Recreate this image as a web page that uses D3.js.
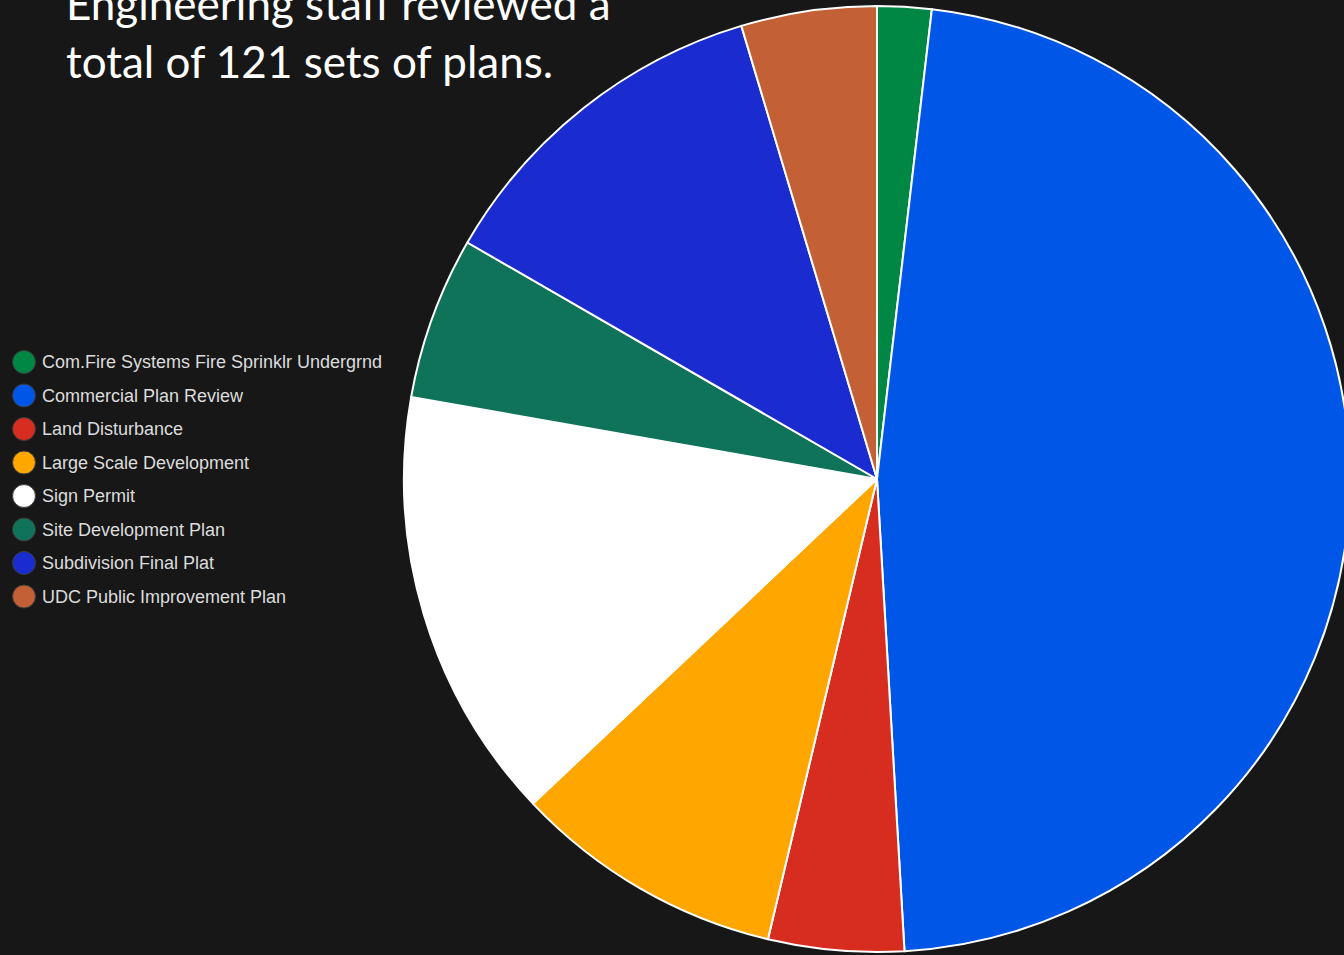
<!DOCTYPE html>
<html>
<head>
<meta charset="utf-8">
<script src="https://cdn.jsdelivr.net/npm/d3@7"></script>
<style>
  html, body { margin: 0; padding: 0; background: #171717; overflow: hidden; }
  svg { display: block; }
</style>
</head>
<body>
<div id="chart"></div>
<script>
const categories = [
  'Com.Fire Systems Fire Sprinklr Undergrnd',
  'Commercial Plan Review',
  'Land Disturbance',
  'Large Scale Development',
  'Sign Permit',
  'Site Development Plan',
  'Subdivision Final Plat',
  'UDC Public Improvement Plan'
];
const counts = [2, 51, 5, 10, 16, 6, 13, 5];
const colors = ['#008744', '#0057e7', '#d62d20', '#ffa700', '#ffffff', '#0e7358', '#1a2bd0', '#c46035'];
const titleLines = ['Engineering staff reviewed a', 'total of 121 sets of plans.'];

const width = 1344, height = 955;
const cx = 877, cy = 479, radius = 473;

const svg = d3.select('#chart').append('svg')
  .attr('width', width).attr('height', height);

svg.append('rect').attr('width', width).attr('height', height).attr('fill', '#171717');

const data = categories.map((c, i) => ({name: c, value: counts[i], color: colors[i]}));

const pie = d3.pie().value(d => d.value).sort(null);
const arc = d3.arc().innerRadius(0).outerRadius(radius);

svg.append('g')
  .attr('transform', `translate(${cx},${cy})`)
  .selectAll('path')
  .data(pie(data))
  .enter().append('path')
  .attr('d', arc)
  .attr('fill', d => d.data.color)
  .attr('stroke', '#ffffff')
  .attr('stroke-width', 2)
  .attr('stroke-linejoin', 'round');

// legend
const legend = svg.append('g').attr('transform', 'translate(24,362)');
const item = legend.selectAll('g')
  .data(data)
  .enter().append('g')
  .attr('transform', (d, i) => `translate(0,${i * 33.5})`);

item.append('circle')
  .attr('r', 11.5)
  .attr('fill', d => d.color)
  .attr('stroke', '#3a3a3a')
  .attr('stroke-width', 1);

item.append('text')
  .attr('x', 18)
  .attr('dy', '0.35em')
  .attr('fill', '#dcdcdc')
  .style('font-family', '"Liberation Sans", Arial, sans-serif')
  .style('font-size', '18px')
  .text(d => d.name);

// title
svg.append('g')
  .selectAll('text')
  .data(titleLines)
  .enter().append('text')
  .attr('x', 66)
  .attr('y', (d, i) => 20 + i * 58)
  .attr('fill', '#ffffff')
  .style('font-family', 'Lato, "Open Sans", sans-serif')
  .style('font-size', '44px')
  .text(d => d);
</script>
</body>
</html>
